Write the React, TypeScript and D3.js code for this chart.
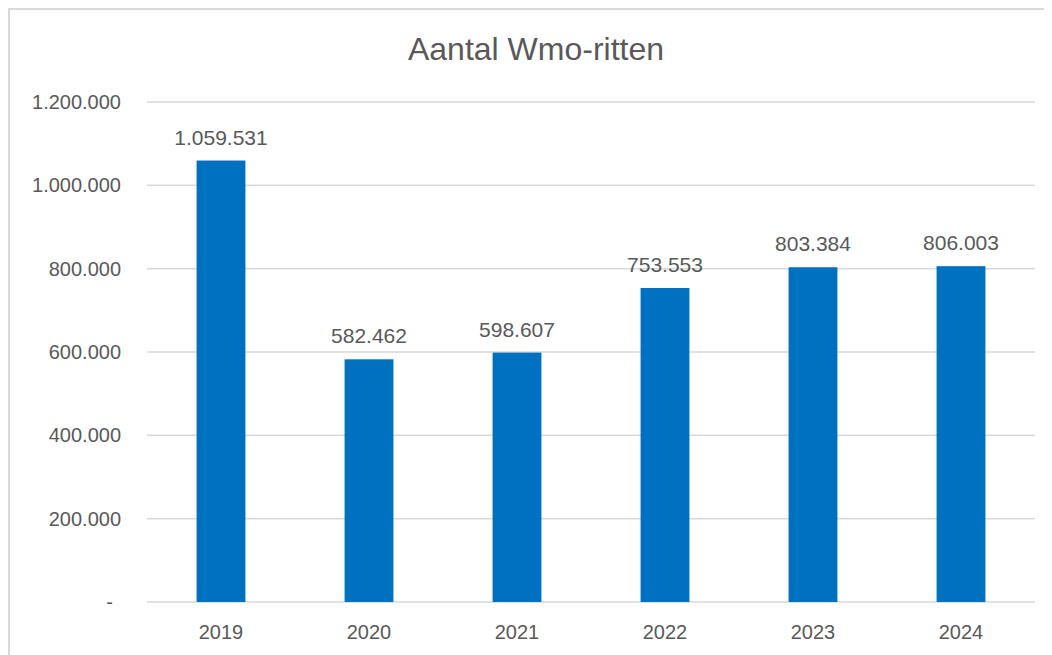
import React, { useEffect, useRef } from 'react';
import * as d3 from 'd3';

const years = ['2019', '2020', '2021', '2022', '2023', '2024'];
const rides = [1059531, 582462, 598607, 753553, 803384, 806003];
const yTicks = [0, 200000, 400000, 600000, 800000, 1000000, 1200000];

const W = 1044;
const H = 647;
const margin = { top: 94, right: 17, bottom: 53, left: 139 };

// dutch thousands separator, zero shown as a dash
const fmtNum = (v: number) =>
  v === 0 ? '-' : d3.format(',')(v).replace(/,/g, '.');

const App = () => {
  const svgRef = useRef<SVGSVGElement>(null);

  useEffect(() => {
    const svg = d3.select(svgRef.current);
    svg.selectAll('*').remove();

    const x = d3.scaleBand()
      .domain(years)
      .range([margin.left, W - margin.right])
      .paddingInner(0.67)
      .paddingOuter(0.335);

    const y = d3.scaleLinear()
      .domain([0, 1200000])
      .range([H - margin.bottom, margin.top]);

    // chart area border (top + left visible, the rest is cut off)
    svg.append('path')
      .attr('d', `M1,${H} L1,1 L${W},1`)
      .attr('fill', 'none')
      .attr('stroke', '#d9d9d9')
      .attr('stroke-width', 2);

    svg.append('text')
      .attr('x', 528)
      .attr('y', 52)
      .attr('text-anchor', 'middle')
      .attr('font-size', 32)
      .attr('fill', '#595959')
      .text('Aantal Wmo-ritten');

    const grid = svg.append('g');
    grid.selectAll('line')
      .data(yTicks)
      .join('line')
      .attr('x1', margin.left)
      .attr('x2', W - margin.right)
      .attr('y1', d => y(d))
      .attr('y2', d => y(d))
      .attr('stroke', '#d9d9d9')
      .attr('stroke-width', 1.5);

    grid.selectAll('text')
      .data(yTicks)
      .join('text')
      .attr('x', d => (d === 0 ? 105 : 113))
      .attr('y', d => y(d))
      .attr('dy', '0.35em')
      .attr('text-anchor', 'end')
      .attr('font-size', 20)
      .attr('fill', '#595959')
      .text(d => fmtNum(d));

    const data = years.map((yr, i) => ({ year: yr, value: rides[i] }));

    svg.append('g')
      .selectAll('rect')
      .data(data)
      .join('rect')
      .attr('x', d => x(d.year)!)
      .attr('width', x.bandwidth())
      .attr('y', d => y(d.value))
      .attr('height', d => y(0) - y(d.value))
      .attr('fill', '#0070c0');

    svg.append('g')
      .selectAll('text')
      .data(data)
      .join('text')
      .attr('x', d => x(d.year)! + x.bandwidth() / 2)
      .attr('y', d => y(d.value) - 16)
      .attr('text-anchor', 'middle')
      .attr('font-size', 21)
      .attr('fill', '#595959')
      .text(d => fmtNum(d.value));

    svg.append('g')
      .selectAll('text')
      .data(years)
      .join('text')
      .attr('x', d => x(d)! + x.bandwidth() / 2)
      .attr('y', 631)
      .attr('text-anchor', 'middle')
      .attr('font-size', 20)
      .attr('fill', '#595959')
      .text(d => d);
  }, []);

  return (
    <svg
      ref={svgRef}
      width={W}
      height={H}
      style={{ display: 'block', fontFamily: '"Liberation Sans", Arial, sans-serif', background: '#fff' }}
    />
  );
};

export default App;
